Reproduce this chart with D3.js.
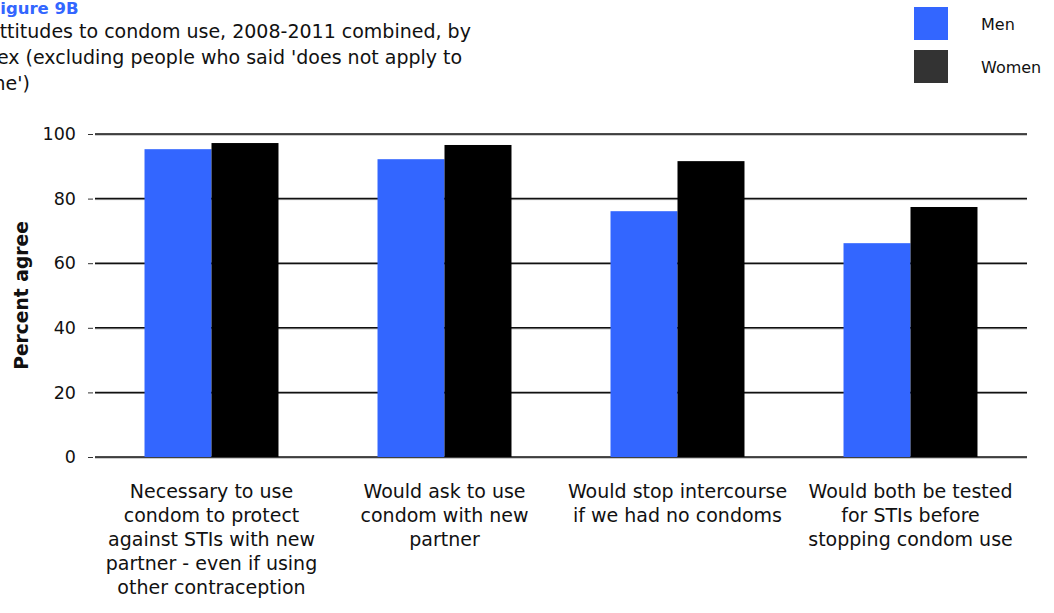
<!DOCTYPE html>
<html>
<head>
<meta charset="utf-8">
<script src="https://cdn.jsdelivr.net/npm/d3@7"></script>
<style>
  html, body { margin: 0; padding: 0; background: #fff; }
  svg { display: block; font-family: "DejaVu Sans", sans-serif; }
</style>
</head>
<body>
<svg id="chart" width="1054" height="613"></svg>
<script>
// Survey statements (category labels, pre-wrapped)
const categories = [
  ["Necessary to use", "condom to protect", "against STIs with new", "partner - even if using", "other contraception"],
  ["Would ask to use", "condom with new", "partner"],
  ["Would stop intercourse", "if we had no condoms"],
  ["Would both be tested", "for STIs before", "stopping condom use"]
];
const seriesNames = ["Men", "Women"];
const menValues = [95.3, 92.2, 76.1, 66.2];
const womenValues = [97.2, 96.6, 91.6, 77.4];
const yTicks = [0, 20, 40, 60, 80, 100];
const titleLines = [
  "Attitudes to condom use, 2008-2011 combined, by",
  "sex (excluding people who said 'does not apply to",
  "me')"
];

const svg = d3.select("#chart");
const W = 1054, H = 613;
const margin = { left: 95, right: 27, top: 134, bottom: 156 };
const innerLeft = margin.left, innerRight = W - margin.right;
const innerTop = margin.top, innerBottom = H - margin.bottom;

const x0 = d3.scaleBand()
  .domain(d3.range(categories.length))
  .range([innerLeft, innerRight])
  .paddingInner(0.425)
  .paddingOuter(0.2125);
const x1 = d3.scaleBand()
  .domain(seriesNames)
  .range([0, x0.bandwidth()]);
const y = d3.scaleLinear().domain([0, 100]).range([innerBottom, innerTop]);

const barColor = { Men: "#3366FF", Women: "#000000" };
const swatchColor = { Men: "#3366FF", Women: "#333333" };

// Gridlines (dark line with a light shadow underneath)
const grid = svg.append("g");
grid.selectAll("line.shadow")
  .data(yTicks).join("line").attr("class", "shadow")
  .attr("x1", innerLeft).attr("x2", innerRight)
  .attr("y1", d => y(d) + 1).attr("y2", d => y(d) + 1)
  .attr("stroke", "#999").attr("stroke-width", 1);
grid.selectAll("line.main")
  .data(yTicks).join("line").attr("class", "main")
  .attr("x1", innerLeft).attr("x2", innerRight)
  .attr("y1", d => y(d)).attr("y2", d => y(d))
  .attr("stroke", "#111").attr("stroke-width", 1.5);

// Y axis labels and tick marks
const yAxis = d3.axisLeft(y).tickValues(yTicks).tickSize(5).tickPadding(12);
const yg = svg.append("g").attr("transform", `translate(${innerLeft - 2},0)`).call(yAxis);
yg.select(".domain").remove();
yg.selectAll(".tick line").attr("stroke", "#333");
yg.selectAll(".tick text").attr("font-size", 17.5).attr("fill", "#111")
  .attr("font-family", "DejaVu Sans, sans-serif");

// Bars
const rows = categories.map((c, i) => ({ i, values: [
  { key: "Men", v: menValues[i] },
  { key: "Women", v: womenValues[i] }
]}));
svg.append("g").selectAll("g")
  .data(rows).join("g")
  .attr("transform", d => `translate(${x0(d.i)},0)`)
  .selectAll("rect")
  .data(d => d.values).join("rect")
  .attr("x", d => x1(d.key))
  .attr("width", x1.bandwidth())
  .attr("y", d => y(d.v))
  .attr("height", d => y(0) - y(d.v))
  .attr("fill", d => barColor[d.key]);

// Category labels
const cl = svg.append("g");
rows.forEach(r => {
  const cx = x0(r.i) + x0.bandwidth() / 2;
  const t = cl.append("text")
    .attr("x", cx).attr("y", 498)
    .attr("text-anchor", "middle")
    .attr("font-size", 19)
    .attr("fill", "#111");
  categories[r.i].forEach((line, k) => {
    t.append("tspan").attr("x", cx).attr("dy", k === 0 ? 0 : 24).text(line);
  });
});

// Y axis title
svg.append("text")
  .attr("transform", `translate(28,${(innerTop + innerBottom) / 2}) rotate(-90)`)
  .attr("text-anchor", "middle")
  .attr("font-size", 18.7).attr("font-weight", "bold").attr("fill", "#111")
  .text("Percent agree");

// Title block
svg.append("text")
  .attr("x", -11).attr("y", 14)
  .attr("font-size", 16.5).attr("font-weight", "bold").attr("fill", "#3366FF")
  .text("Figure 9B");
const tt = svg.append("text").attr("x", -13).attr("y", 38)
  .attr("font-size", 19).attr("fill", "#111");
titleLines.forEach((line, k) => {
  tt.append("tspan").attr("x", -13).attr("dy", k === 0 ? 0 : 26).text(line);
});

// Legend
const lg = svg.append("g").selectAll("g")
  .data(seriesNames).join("g")
  .attr("transform", (d, i) => `translate(914,${7 + i * 43})`);
lg.append("rect").attr("width", 34).attr("height", 33)
  .attr("fill", d => swatchColor[d]);
lg.append("text").attr("x", 67).attr("y", 23)
  .attr("font-size", 16).attr("fill", "#111").text(d => d);
</script>
</body>
</html>
